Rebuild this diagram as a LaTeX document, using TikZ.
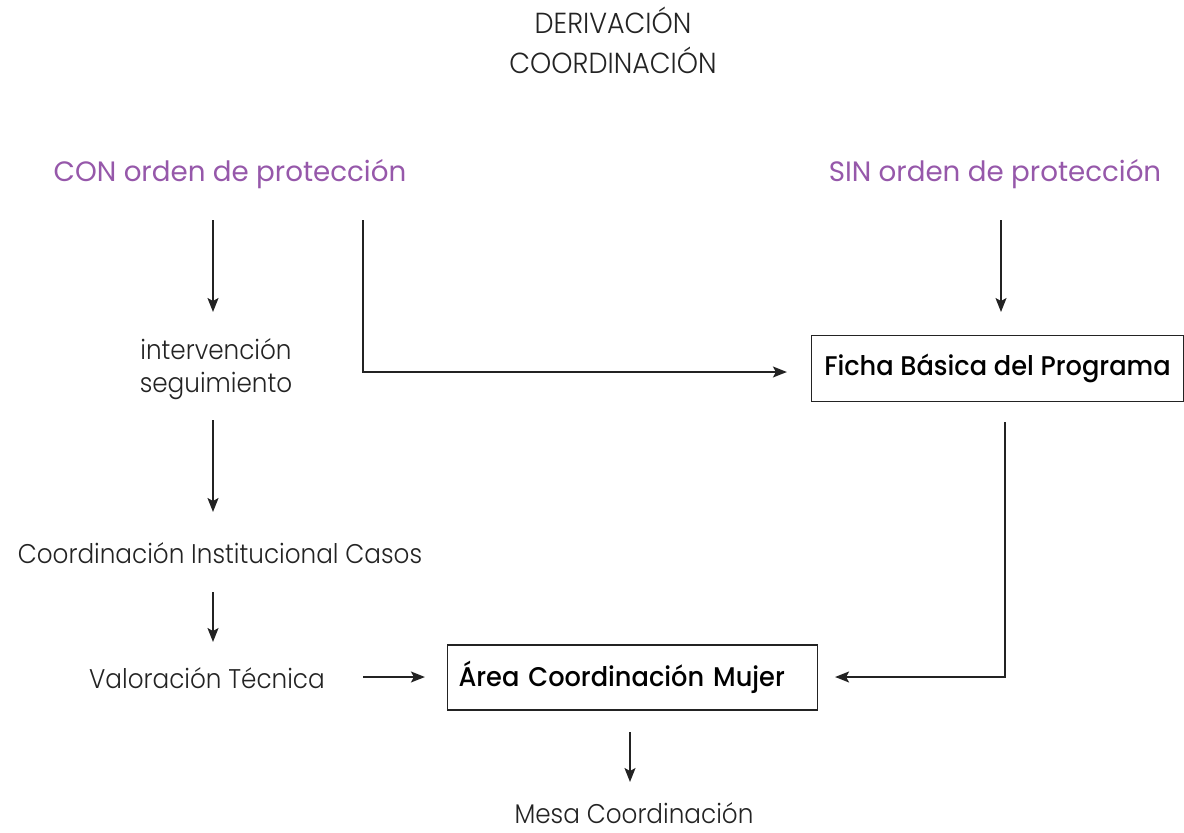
\documentclass[tikz,border=0pt]{standalone}
\usepackage{fontspec}
\setmainfont{Poppins}[FakeStretch=0.99]
\newfontfamily\lightf{Poppins Light}[FakeStretch=0.915]
\newfontfamily\hdrf{Poppins Light}[FakeStretch=0.93]
\newfontfamily\medf{Poppins Medium}[FakeStretch=0.95]
\usetikzlibrary{arrows.meta}
\definecolor{purp}{RGB}{150,88,170}
\definecolor{ink}{RGB}{35,35,35}
\begin{document}
\begin{tikzpicture}[x=1pt,y=-1pt,
  txt/.style={font=\lightf\fontsize{27}{33}\selectfont, text=ink, inner sep=0pt},
  hdr/.style={font=\hdrf\fontsize{29}{40}\selectfont, text=ink, inner sep=0pt, align=center},
  ttl/.style={font=\fontsize{28}{30}\selectfont, text=purp, inner sep=0pt},
  boxn/.style={draw=ink, line width=1.2pt, font=\medf\fontsize{27}{30}\selectfont, text=black, inner sep=0pt, minimum height=66pt},
  arr/.style={draw=ink, line width=1.4pt, -{Stealth[length=14pt,width=11pt,inset=3pt]}}]
\useasboundingbox (0,0) rectangle (1184,833);
\node[hdr] (hd) at (613,40) {DERIVACIÓN\\COORDINACIÓN};
\node[ttl] (con) at (230,174) {CON orden de protección};
\node[ttl] (sin) at (995,174) {SIN orden de protección};
\node[txt, align=center] (inter) at (216,369) {intervención\\seguimiento};
\node[txt] (coord) at (220,553) {Coordinación Institucional Casos};
\node[txt] (valor) at (207,678) {Valoración Técnica};
\node[boxn, minimum width=372pt] (ficha) at (997.5,368.5) {Ficha Básica del Programa};
\node[boxn, text width=348pt, align=left, inner xsep=11pt, minimum height=65pt] (area) at (632.5,677.5) {Área Coordinación Mujer};
\node[txt] (mesa) at (634,813) {Mesa Coordinación};
% connector end points
\coordinate (c1a) at (213,220); \coordinate (c1b) at (213,312);
\coordinate (c2a) at (363,220); \coordinate (c2m) at (363,372);
\coordinate (c3a) at (1001,220); \coordinate (c3b) at (1001,312);
\coordinate (c4a) at (213,420); \coordinate (c4b) at (213,512);
\coordinate (c5a) at (213,592); \coordinate (c5b) at (213,642);
\coordinate (c6a) at (363,677);
\coordinate (c7a) at (1005,422); \coordinate (c7m) at (1005,677);
\coordinate (c8a) at (630,732); \coordinate (c8b) at (630,782);
\draw[arr] (c1a) -- (c1b);
\draw[arr] (c2a) -- (c2m) -- ([xshift=-24pt]ficha.west |- c2m);
\draw[arr] (c3a) -- (c3b);
\draw[arr] (c4a) -- (c4b);
\draw[arr] (c5a) -- (c5b);
\draw[arr] (c6a) -- ([xshift=-22pt]area.west |- c6a);
\draw[arr] (c7a) -- (c7m) -- ([xshift=17pt]area.east |- c7m);
\draw[arr] (c8a) -- (c8b);
\end{tikzpicture}
\end{document}
